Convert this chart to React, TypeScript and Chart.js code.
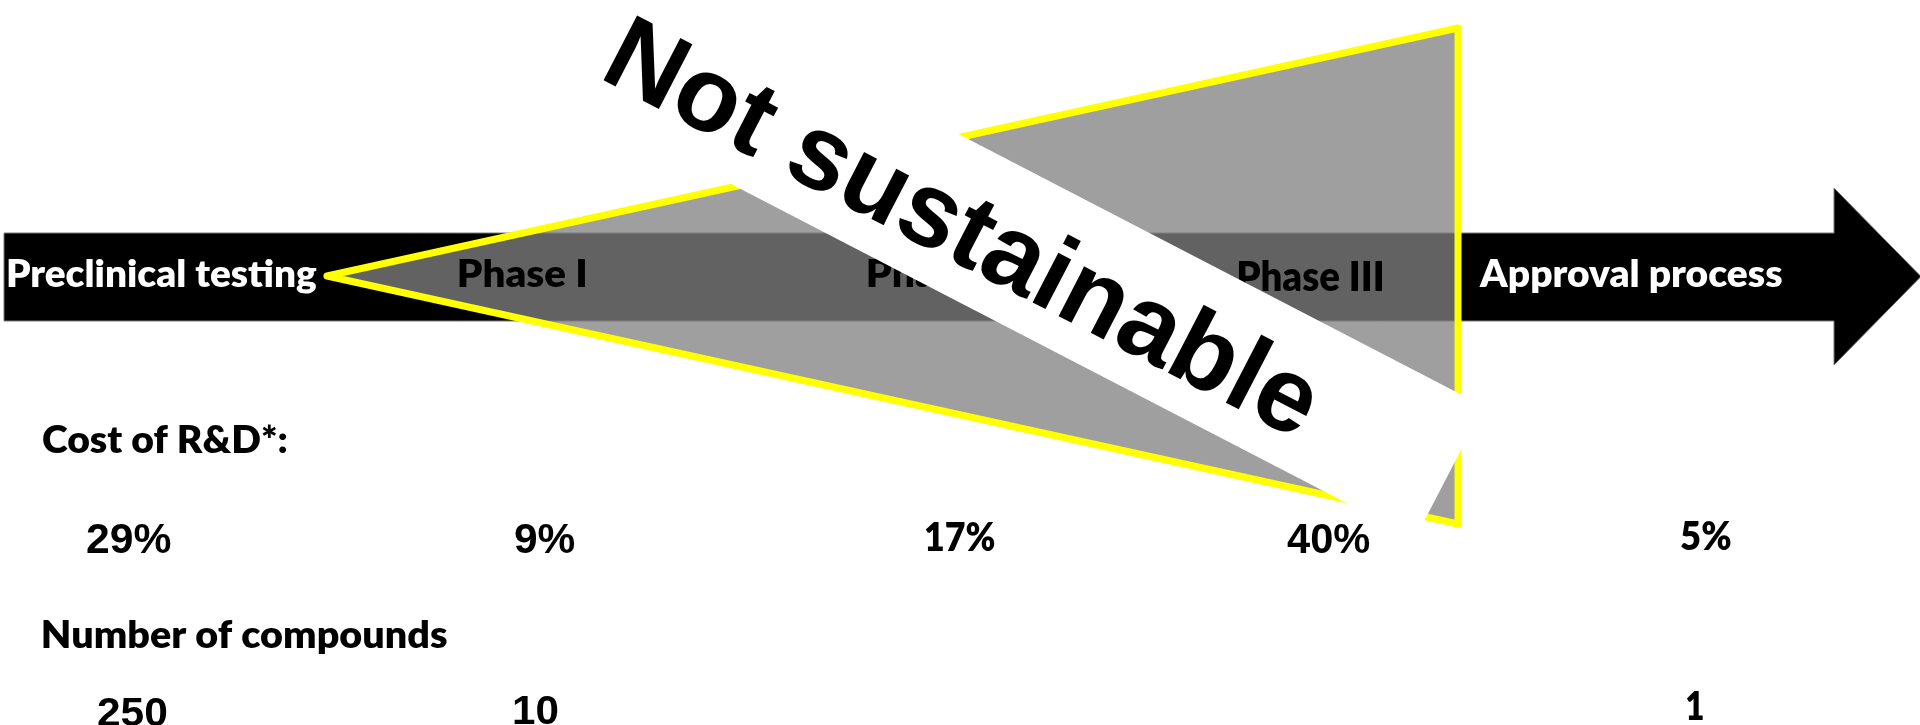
import React, { useEffect, useRef } from 'react';
import { Chart, registerables } from 'chart.js';

Chart.register(...registerables);

const W = 1920;
const H = 725;

// ---------- data ----------
const stages = ['Preclinical testing', 'Phase I', 'Phase II', 'Phase III', 'Approval process'];
const costShare = [29, 9, 17, 40, 5]; // % of R&D cost per stage
const compounds: (number | null)[] = [250, 10, null, null, 1];
const costTitle = 'Cost of R&D*:';
const compoundsTitle = 'Number of compounds';
const bannerText = 'Not sustainable';

// ---------- layout (units of the linear x / y scales) ----------
const arrowX = [4, 1834, 1834, 1921, 1834, 1834, 4, 4];
const arrowY = [233, 233, 188, 276.5, 365, 321, 321, 233];
const funnelX = [327, 1458, 1458, 327];
const funnelY = [276, 28, 524, 276];

const stageLeft = [8, 459, 868, 1238, 1479];
const stageInk = [309, 126, 140, 144, 303];
const stageBase = [287, 287, 287, 291, 287];
const stageSize = [37, 37, 37, 41, 37];
const stageColor = ['#ffffff', '#000000', '#000000', '#000000', '#ffffff'];

const titleLeft = 43;
const costTitleInk = 244;
const costTitleBase = 453;
const compoundsTitleInk = 404;
const compoundsTitleBase = 648;

const costLeft = [87, 515, 925, 1287, 1681];
const costInk = [84, 60, 70, 83, 50];
const costBase = [553, 553, 551, 553, 550];
const costArial = [true, true, false, true, false];

const countLeft = [98, 514, 0, 0, 1686];
const countInk = [69, 44, 0, 0, 17];
const countBase = [726, 724, 0, 0, 720];
const countArial = [true, true, false, false, false];

const bannerCx = 974;
const bannerCy = 226;
const bannerLen = 1071;
const bannerWid = 149;
const bannerAngle = 27.4;
const bannerTextLeft = -396; // along the banner, from its centre
const bannerTextInk = 779;
const bannerTextBase = 41; // across the banner, from its centre

const ARIAL = '"Liberation Sans", Arial, sans-serif';
const CALIBRI = 'Lato, "Open Sans", sans-serif';
const CAL_W = 800;

function fitText(
  ctx: CanvasRenderingContext2D,
  text: string,
  inkLeft: number,
  baseline: number,
  inkWidth: number,
  font: string,
  color: string
) {
  ctx.save();
  ctx.font = font;
  ctx.fillStyle = color;
  ctx.textAlign = 'left';
  ctx.textBaseline = 'alphabetic';
  const m = ctx.measureText(text);
  const ink = m.actualBoundingBoxLeft + m.actualBoundingBoxRight;
  const sx = ink > 0 ? inkWidth / ink : 1;
  ctx.translate(inkLeft + m.actualBoundingBoxLeft * sx, baseline);
  ctx.scale(sx, 1);
  ctx.fillText(text, 0, 0);
  ctx.restore();
}

const overlayPlugin = {
  id: 'pipelineOverlay',
  afterDatasetsDraw(chart: any) {
    const { ctx } = chart;
    const xs = chart.scales.x;
    const ys = chart.scales.y;
    const px = (v: number) => xs.getPixelForValue(v);
    const py = (v: number) => ys.getPixelForValue(v);
    const dx = (a: number, w: number) => px(a + w) - px(a);

    // stage labels on the arrow
    stages.forEach((s, i) => {
      fitText(
        ctx,
        s,
        px(stageLeft[i]),
        py(stageBase[i]),
        dx(stageLeft[i], stageInk[i]),
        `${CAL_W} ${stageSize[i]}px ${CALIBRI}`,
        stageColor[i]
      );
    });

    // white banner with "Not sustainable"
    const cx = px(bannerCx);
    const cy = py(bannerCy);
    const len = dx(bannerCx, bannerLen);
    const wid = py(bannerCy + bannerWid) - py(bannerCy);
    ctx.save();
    ctx.translate(cx, cy);
    ctx.rotate((bannerAngle * Math.PI) / 180);
    ctx.fillStyle = '#ffffff';
    ctx.fillRect(-len / 2, -wid / 2, len, wid);
    fitText(ctx, bannerText, bannerTextLeft, bannerTextBase, bannerTextInk, `bold 106px ${ARIAL}`, '#000000');
    ctx.restore();

    // titles
    fitText(ctx, costTitle, px(titleLeft), py(costTitleBase), dx(titleLeft, costTitleInk), `${CAL_W} 37px ${CALIBRI}`, '#000');
    fitText(
      ctx,
      compoundsTitle,
      px(titleLeft),
      py(compoundsTitleBase),
      dx(titleLeft, compoundsTitleInk),
      `${CAL_W} 37px ${CALIBRI}`,
      '#000'
    );

    // cost shares
    costShare.forEach((v, i) => {
      const font = costArial[i] ? `bold 42px ${ARIAL}` : `${CAL_W} 39px ${CALIBRI}`;
      fitText(ctx, `${v}%`, px(costLeft[i]), py(costBase[i]), dx(costLeft[i], costInk[i]), font, '#000');
    });

    // compound counts
    compounds.forEach((v, i) => {
      if (v === null) return;
      const font = countArial[i] ? `bold 41px ${ARIAL}` : `${CAL_W} 39px ${CALIBRI}`;
      fitText(ctx, `${v}`, px(countLeft[i]), py(countBase[i]), dx(countLeft[i], countInk[i]), font, '#000');
    });
  },
};

export default function App() {
  const canvasRef = useRef<HTMLCanvasElement | null>(null);

  useEffect(() => {
    document.body.style.margin = '0';
    const canvas = canvasRef.current;
    if (!canvas) return;
    const chart = new Chart(canvas, {
      type: 'line',
      data: {
        datasets: [
          {
            label: 'funnel',
            data: funnelX.map((x, i) => ({ x, y: funnelY[i] })),
            borderColor: '#ffff00',
            borderWidth: 7,
            backgroundColor: 'rgba(129,129,129,0.76)',
            fill: 'shape',
            pointRadius: 0,
            tension: 0,
            borderJoinStyle: 'round',
            borderCapStyle: 'round',
            order: 1,
          } as any,
          {
            label: 'pipeline',
            data: arrowX.map((x, i) => ({ x, y: arrowY[i] })),
            borderColor: '#7a7a7a',
            borderWidth: 1,
            backgroundColor: '#000000',
            fill: 'shape',
            pointRadius: 0,
            tension: 0,
            borderJoinStyle: 'miter',
            order: 2,
          } as any,
        ],
      },
      options: {
        animation: false,
        responsive: false,
        maintainAspectRatio: false,
        events: [],
        layout: { padding: 0 },
        scales: {
          x: { type: 'linear', min: 0, max: W, display: false },
          y: { type: 'linear', min: 0, max: H, reverse: true, display: false },
        },
        plugins: {
          legend: { display: false },
          tooltip: { enabled: false },
          title: { display: false },
        },
      },
      plugins: [overlayPlugin],
    });

    let alive = true;
    if ((document as any).fonts && (document as any).fonts.load) {
      Promise.all([
        (document as any).fonts.load(`${CAL_W} 37px Lato`),
        (document as any).fonts.load(`bold 42px "Liberation Sans"`),
      ])
        .then(() => {
          if (alive) chart.draw();
        })
        .catch(() => {});
    }

    return () => {
      alive = false;
      chart.destroy();
    };
  }, []);

  return (
    <div style={{ position: 'absolute', left: 0, top: 0, width: W, height: H, background: '#ffffff' }}>
      <canvas ref={canvasRef} width={W} height={H} style={{ display: 'block', width: W, height: H }} />
    </div>
  );
}
